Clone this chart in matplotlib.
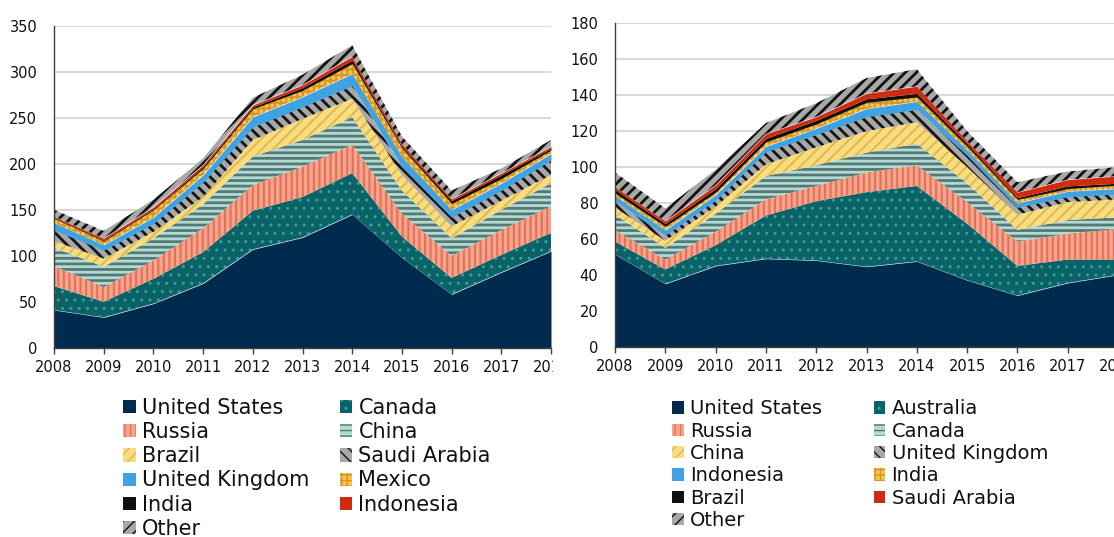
import matplotlib
matplotlib.use("Agg")
import matplotlib.pyplot as plt
from matplotlib.patches import Rectangle

plt.rcParams['font.family'] = ['DejaVu Sans']

years = list(range(2008, 2019))

# ---- Left chart data ----
left_labels = ["United States", "Canada", "Russia", "China", "Brazil", "Saudi Arabia",
               "United Kingdom", "Mexico", "India", "Indonesia", "Other"]
left_us = [41, 33, 48, 70, 107, 120, 145, 98, 58, 82, 105]
left_canada = [26, 17, 27, 34, 42, 44, 45, 23, 18, 19, 20]
left_russia = [22, 16, 20, 26, 28, 33, 31, 25, 24, 27, 29]
left_china = [20, 22, 24, 26, 31, 29, 30, 25, 19, 22, 25]
left_brazil = [7, 9, 7, 8, 18, 23, 20, 17, 13, 10, 9]
left_saudi = [12, 9, 9, 16, 14, 13, 14, 9, 10, 11, 16]
left_uk = [8, 6, 7, 8, 11, 11, 13, 11, 8, 8, 7]
left_mexico = [5, 4, 8, 7, 9, 7, 11, 9, 7, 5, 4]
left_india = [1, 1, 1, 2, 2, 3, 4, 2, 3, 4, 2]
left_indonesia = [1, 2, 2, 2, 2, 3, 4, 3, 2, 2, 2]
left_other = [7, 8, 8, 7, 8, 11, 12, 8, 9, 5, 7]
left_series = [left_us, left_canada, left_russia, left_china, left_brazil, left_saudi,
               left_uk, left_mexico, left_india, left_indonesia, left_other]
left_yticks = [0, 50, 100, 150, 200, 250, 300, 350]

# ---- Right chart data ----
right_labels = ["United States", "Australia", "Russia", "Canada", "China", "United Kingdom",
                "Indonesia", "India", "Brazil", "Saudi Arabia", "Other"]
right_us = [51.5, 35, 45, 49, 48, 44.5, 47.5, 37, 28.5, 35.5, 40]
right_australia = [7, 8, 11.5, 24, 33, 41.5, 42, 31.5, 16.5, 13, 8.5]
right_russia = [6.5, 5.5, 7.5, 9, 8.5, 11, 11.5, 12, 13.5, 14.5, 17]
right_canada = [8.5, 6.5, 10, 13, 11.5, 11, 12, 10.5, 6.5, 7.5, 6.5]
right_china = [4, 4, 4, 6.5, 10, 12, 12, 9, 8.5, 10, 10]
right_uk = [3.5, 3, 3.5, 7, 7, 8, 7, 6.5, 4, 3, 3]
right_indonesia = [3, 3, 3, 3, 3.5, 4.5, 4.5, 3, 2.5, 3, 3]
right_india = [1.5, 2, 1.5, 2.5, 2.5, 3.5, 2.5, 2, 2, 1.5, 2]
right_brazil = [2, 1.5, 2, 2, 2, 2, 2, 1.5, 1, 1.5, 1]
right_saudi = [1.5, 1.5, 2, 2.5, 2, 3, 4, 1.5, 3, 3.5, 4]
right_other = [8, 7, 8.5, 6, 7.5, 8.5, 9.5, 5.5, 5.5, 4.5, 5]
right_series = [right_us, right_australia, right_russia, right_canada, right_china, right_uk,
                right_indonesia, right_india, right_brazil, right_saudi, right_other]
right_yticks = [0, 20, 40, 60, 80, 100, 120, 140, 160, 180]

# ---- Styles (face, hatch, hatch colour, hatch linewidth) by stacking position ----
styles = [
    ("#002A4E", None, None, 1.0),          # navy
    ("#0A6467", "..", "#3E9C9C", 1.0),     # teal dotted
    ("#F6A58D", "|||", "#E2705A", 1.5),    # salmon vertical stripes
    ("#B3D9D3", "---", "#557A76", 2.0),    # grey-teal horizontal stripes
    ("#F7DC80", "///", "#E3B94E", 1.5),    # yellow diagonal
    ("#A8A8A8", "\\\\\\", "#151515", 2.0),  # grey/black diagonal
    ("#3FA2E2", None, None, 1.0),          # blue
    ("#F4C653", "+++", "#D8951F", 1.5),    # orange checker
    ("#111111", None, None, 1.0),          # black
    ("#CF2B10", None, None, 1.0),          # red
    ("#A8A8A8", "///", "#111111", 2.0),    # other stripes
]

W, H = 1114, 537
fig = plt.figure(figsize=(W / 100, H / 100), dpi=100)


def draw_panel(rect, series, yticks, zorder):
    ax = fig.add_axes(rect)
    ax.set_zorder(zorder)
    base = [0.0] * len(years)
    handles = []
    for vals, (fc, hatch, hc, hlw) in zip(series, styles):
        top = [b + v for b, v in zip(base, vals)]
        with plt.rc_context({'hatch.linewidth': hlw}):
            kw = dict(facecolor=fc, linewidth=0)
            if hatch:
                kw.update(hatch=hatch, edgecolor=hc)
            else:
                kw.update(edgecolor=fc)
            coll = ax.fill_between(years, base, top, **kw)
            coll.set_linewidth(0)
            if hasattr(coll, "set_hatch_linewidth"):
                coll.set_hatch_linewidth(hlw)
        handles.append(coll)
        base = top
    ax.set_xlim(years[0], years[-1])
    ax.set_ylim(yticks[0], yticks[-1])
    ax.set_yticks(yticks)
    ax.set_xticks(years)
    ax.set_xticklabels([str(y) for y in years])
    ax.grid(axis='y', color='#D9D9D9', linewidth=1.5)
    ax.set_axisbelow(True)
    for s in ['top', 'right']:
        ax.spines[s].set_visible(False)
    for s in ['left', 'bottom']:
        ax.spines[s].set_color('#404040')
        ax.spines[s].set_linewidth(1.0)
        ax.spines[s].set_zorder(5)
    ax.tick_params(axis='x', direction='out', length=4.5, width=1, color='#404040',
                   labelsize=10.5, pad=4, labelcolor='#111111')
    ax.tick_params(axis='y', length=0, labelsize=10.5, pad=12, labelcolor='#111111')
    return ax, handles


def reorder(items):
    # row-major two-column layout
    return items[0::2] + items[1::2]


axL, hL = draw_panel([54 / W, (H - 347.7) / H, (551 - 54) / W, (347.7 - 26) / H],
                     left_series, left_yticks, 0)

# white mask hiding the left panel's overflow (clipped 2018 label)
mask = Rectangle((552.5 / W, 0), 1 - 552.5 / W, 1, transform=fig.transFigure,
                 facecolor='white', edgecolor='none', zorder=0.5)
fig.add_artist(mask)

axR, hR = draw_panel([615 / W, (H - 346.7) / H, (1118 - 615) / W, (346.7 - 23.3) / H],
                     right_series, right_yticks, 1)

legL = fig.legend(reorder(hL), reorder(left_labels), loc='upper left',
                  bbox_to_anchor=(123 / W, 1 - 398 / H), ncol=2, frameon=False,
                  fontsize=15, labelspacing=0.2, handlelength=0.6, handleheight=0.6,
                  handletextpad=0.29, columnspacing=1.49, borderpad=0, borderaxespad=0)
legR = fig.legend(reorder(hR), reorder(right_labels), loc='upper left',
                  bbox_to_anchor=(672 / W, 1 - 399.5 / H), ncol=2, frameon=False,
                  fontsize=14, labelspacing=0.17, handlelength=0.6, handleheight=0.6,
                  handletextpad=0.31, columnspacing=2.68, borderpad=0, borderaxespad=0)
for leg in (legL, legR):
    leg.set_zorder(2)
    for t in leg.get_texts():
        t.set_color('#111111')

fig.savefig("out.png", dpi=100)
